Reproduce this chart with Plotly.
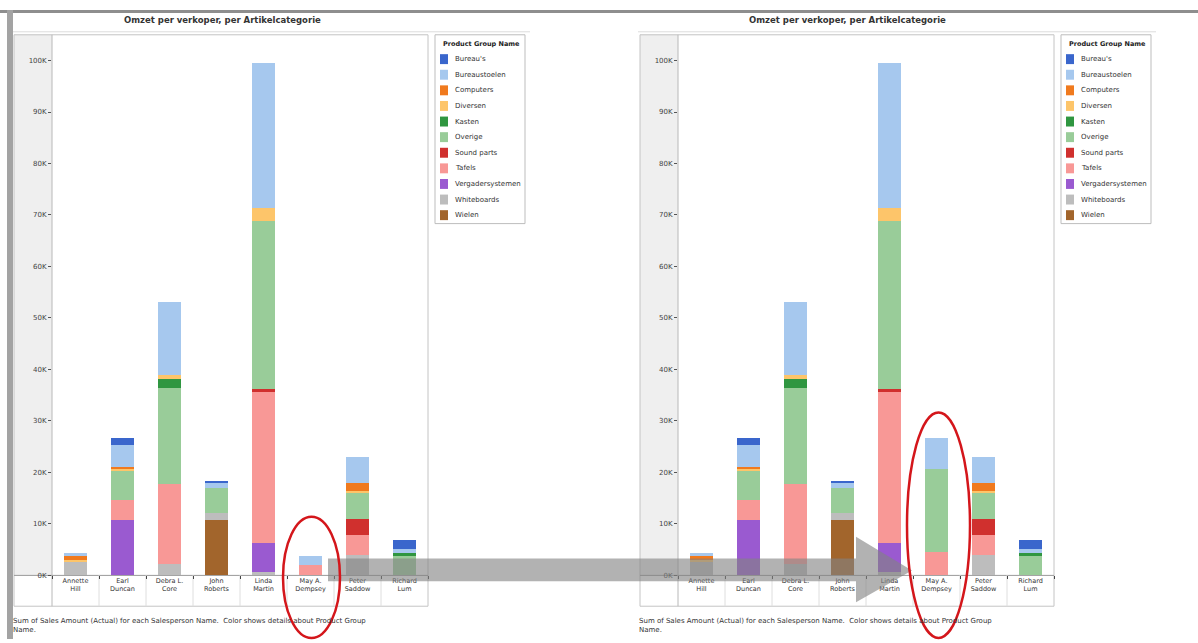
import plotly.graph_objects as go

W, H = 1198, 643

# ---------------- data ----------------
categories = ["Annette Hill", "Earl Duncan", "Debra L. Core", "John Roberts",
              "Linda Martin", "May A. Dempsey", "Peter Saddow", "Richard Lum"]
category_labels = ["Annette<br>Hill", "Earl<br>Duncan", "Debra L.<br>Core", "John<br>Roberts",
                   "Linda<br>Martin", "May A.<br>Dempsey", "Peter<br>Saddow", "Richard<br>Lum"]

# legend order (top to bottom)
legend_names = ["Bureau's", "Bureaustoelen", "Computers", "Diversen", "Kasten", "Overige",
                "Sound parts", "Tafels", "Vergadersystemen", "Whiteboards", "Wielen"]
legend_colors = ["#3a66cc", "#a6c8ee", "#f07a1e", "#fdc56a", "#2f9640", "#99cc99",
                 "#d0302e", "#f89896", "#9a5ad0", "#bdbdbd", "#a2652c"]

# sales amount per salesperson (left chart)
wielen = [0, 0, 0, 10800, 0, 0, 0, 0]
whiteboards = [2700, 0, 2200, 1400, 700, 0, 3900, 0]
vergadersystemen = [0, 10800, 0, 0, 5600, 0, 0, 0]
tafels = [0, 3800, 15600, 0, 29300, 2000, 4000, 0]
sound_parts = [0, 0, 0, 0, 600, 0, 3100, 0]
overige = [0, 5800, 18600, 4800, 32600, 0, 5000, 3800]
kasten = [0, 0, 1700, 0, 0, 0, 0, 600]
diversen = [300, 200, 800, 0, 2500, 0, 400, 0]
computers = [1000, 500, 0, 0, 0, 0, 1600, 0]
bureaustoelen = [300, 4300, 14200, 900, 28300, 1800, 5000, 700]
bureaus = [0, 1200, 0, 400, 0, 0, 0, 1700]

# right chart: May A. Dempsey corrected
tafels_right = [0, 3800, 15600, 0, 29300, 4600, 4000, 0]
overige_right = [0, 5800, 18600, 4800, 32600, 16000, 5000, 3800]
bureaustoelen_right = [300, 4300, 14200, 900, 28300, 6100, 5000, 700]

tick_values = [0, 10000, 20000, 30000, 40000, 50000, 60000, 70000, 80000, 90000, 100000]
tick_labels = ["0K", "10K", "20K", "30K", "40K", "50K", "60K", "70K", "80K", "90K", "100K"]

chart_title = "Omzet per verkoper, per Artikelcategorie"
legend_title = "Product Group Name"
caption = ("Sum of Sales Amount (Actual) for each Salesperson Name.  Color shows details about Product Group"
           "<br>Name.")

# stack order bottom -> top
stack_left = [wielen, whiteboards, vergadersystemen, tafels, sound_parts, overige,
              kasten, diversen, computers, bureaustoelen, bureaus]
stack_right = [wielen, whiteboards, vergadersystemen, tafels_right, sound_parts, overige_right,
               kasten, diversen, computers, bureaustoelen_right, bureaus]
stack_names = legend_names[::-1]
stack_colors = legend_colors[::-1]

FONT = "DejaVu Sans"


def px(x):
    return x / W


def py(y):
    return 1 - y / H


fig = go.Figure()

for name, col, vl, vr in zip(stack_names, stack_colors, stack_left, stack_right):
    fig.add_trace(go.Bar(x=categories, y=vl, name=name, marker=dict(color=col, line=dict(width=0)),
                         xaxis="x", yaxis="y", showlegend=False))
    fig.add_trace(go.Bar(x=categories, y=vr, name=name, marker=dict(color=col, line=dict(width=0)),
                         xaxis="x2", yaxis="y2", showlegend=False))

PLOT_L, PLOT_R, PLOT_T, PLOT_B = 52, 428, 35, 579
ROW_B = 610
DX = 626

yaxis_common = dict(range=[0, 105000], tickvals=tick_values, ticktext=tick_labels,
                    ticks="outside", ticklen=3, tickcolor="#555", tickwidth=1,
                    tickfont=dict(family=FONT, size=7, color="#444"),
                    showgrid=False, zeroline=False, showline=False, fixedrange=True)
xaxis_common = dict(categoryorder="array", categoryarray=categories,
                    tickvals=categories, ticktext=category_labels,
                    tickson="boundaries", ticks="outside", ticklen=3, tickcolor="#444",
                    tickfont=dict(family=FONT, size=6.5, color="#333"),
                    showgrid=False, zeroline=False, showline=False, range=[-0.5, 7.5])

shapes = []
annotations = []

for k, dx in enumerate([0, DX]):
    # axis band
    shapes.append(dict(type="rect", xref="paper", yref="paper", layer="below",
                       x0=px(14 + dx), x1=px(PLOT_L + dx), y0=py(PLOT_B), y1=py(PLOT_T),
                       fillcolor="#efefef", line=dict(width=0)))
    # outer pane border
    shapes.append(dict(type="rect", xref="paper", yref="paper", layer="below",
                       x0=px(14 + dx), x1=px(PLOT_R + dx), y0=py(ROW_B), y1=py(PLOT_T),
                       fillcolor="rgba(0,0,0,0)", line=dict(color="#c4c4c4", width=1)))
    shapes.append(dict(type="line", xref="paper", yref="paper", layer="below",
                       x0=px(PLOT_L + dx), x1=px(PLOT_L + dx), y0=py(ROW_B), y1=py(PLOT_T),
                       line=dict(color="#b8b8b8", width=1)))
    shapes.append(dict(type="line", xref="paper", yref="paper", layer="below",
                       x0=px(14 + dx), x1=px(PLOT_R + dx), y0=py(PLOT_B), y1=py(PLOT_B),
                       line=dict(color="#9a9a9a", width=1)))
    # line under the title
    shapes.append(dict(type="line", xref="paper", yref="paper", layer="below",
                       x0=px(12 + dx), x1=px(530 + dx), y0=py(32), y1=py(32),
                       line=dict(color="#dcdcdc", width=1)))
    # separators in label row
    xr = "x" if k == 0 else "x2"
    for j in range(1, len(categories)):
        shapes.append(dict(type="line", xref=xr, yref="paper", layer="below",
                           x0=j - 0.5, x1=j - 0.5, y0=py(ROW_B), y1=py(PLOT_B),
                           line=dict(color="#dedede", width=1)))
    # legend box
    shapes.append(dict(type="rect", xref="paper", yref="paper", layer="below",
                       x0=px(435 + dx), x1=px(525 + dx), y0=py(225), y1=py(35),
                       fillcolor="white", line=dict(color="#bdbdbd", width=1)))
    annotations.append(dict(xref="paper", yref="paper", x=px(441 + dx), y=py(44),
                            text="<b>" + legend_title + "</b>", showarrow=False,
                            xanchor="left", yanchor="middle",
                            font=dict(family=FONT, size=6.5, color="#222")))
    for i, (nm, col) in enumerate(zip(legend_names, legend_colors)):
        yc = 59.5 + 15.7 * i
        shapes.append(dict(type="rect", xref="paper", yref="paper",
                           x0=px(440 + dx), x1=px(448 + dx), y0=py(yc + 5), y1=py(yc - 5),
                           fillcolor=col, line=dict(width=0)))
        annotations.append(dict(xref="paper", yref="paper", x=px(453 + dx), y=py(yc),
                                text=nm, showarrow=False, xanchor="left", yanchor="middle",
                                font=dict(family=FONT, size=7, color="#333")))
    # title
    annotations.append(dict(xref="paper", yref="paper", x=px(222 + dx), y=py(20),
                            text="<b>" + chart_title + "</b>", showarrow=False,
                            xanchor="center", yanchor="middle",
                            font=dict(family=FONT, size=8.5, color="#333")))
    # caption
    annotations.append(dict(xref="paper", yref="paper", x=px(11 + dx), y=py(619),
                            text=caption, showarrow=False, xanchor="left", yanchor="top",
                            align="left", font=dict(family=FONT, size=7, color="#333")))

# page frame: top grey line and left grey band
shapes.append(dict(type="rect", xref="paper", yref="paper", layer="above",
                   x0=0, x1=1, y0=py(13), y1=py(10), fillcolor="#8e8e8e", line=dict(width=0)))
shapes.append(dict(type="rect", xref="paper", yref="paper", layer="above",
                   x0=px(7), x1=px(13), y0=0, y1=py(10), fillcolor="#a3a3a3", line=dict(width=0)))

# big grey arrow
pts = [(328, 562), (856, 562), (856, 540), (912, 574), (856, 606), (856, 585), (328, 585)]
path = "M " + " L ".join(f"{px(x):.5f},{py(y):.5f}" for x, y in pts) + " Z"
shapes.append(dict(type="path", xref="paper", yref="paper", layer="above", path=path,
                   fillcolor="rgba(130,130,130,0.62)", line=dict(width=0)))

# red ellipses
shapes.append(dict(type="circle", xref="paper", yref="paper", layer="above",
                   x0=px(283), x1=px(340), y0=py(642), y1=py(520),
                   line=dict(color="#d4161b", width=2.5)))
shapes.append(dict(type="circle", xref="paper", yref="paper", layer="above",
                   x0=px(907), x1=px(970), y0=py(642), y1=py(415),
                   line=dict(color="#d4161b", width=2.5)))

fig.update_layout(
    width=W, height=H, autosize=False,
    margin=dict(l=0, r=0, t=0, b=0),
    paper_bgcolor="white", plot_bgcolor="rgba(0,0,0,0)",
    barmode="stack", bargap=0.49,
    showlegend=False,
    xaxis=dict(domain=[px(PLOT_L), px(PLOT_R)], anchor="y", **xaxis_common),
    yaxis=dict(domain=[py(PLOT_B), py(PLOT_T)], anchor="x", **yaxis_common),
    xaxis2=dict(domain=[px(PLOT_L + DX), px(PLOT_R + DX)], anchor="y2", **xaxis_common),
    yaxis2=dict(domain=[py(PLOT_B), py(PLOT_T)], anchor="x2", **yaxis_common),
    shapes=shapes, annotations=annotations,
    font=dict(family=FONT),
)

fig.write_html("out.html", config={"displayModeBar": False},
               post_script="document.body.style.margin='0';")
